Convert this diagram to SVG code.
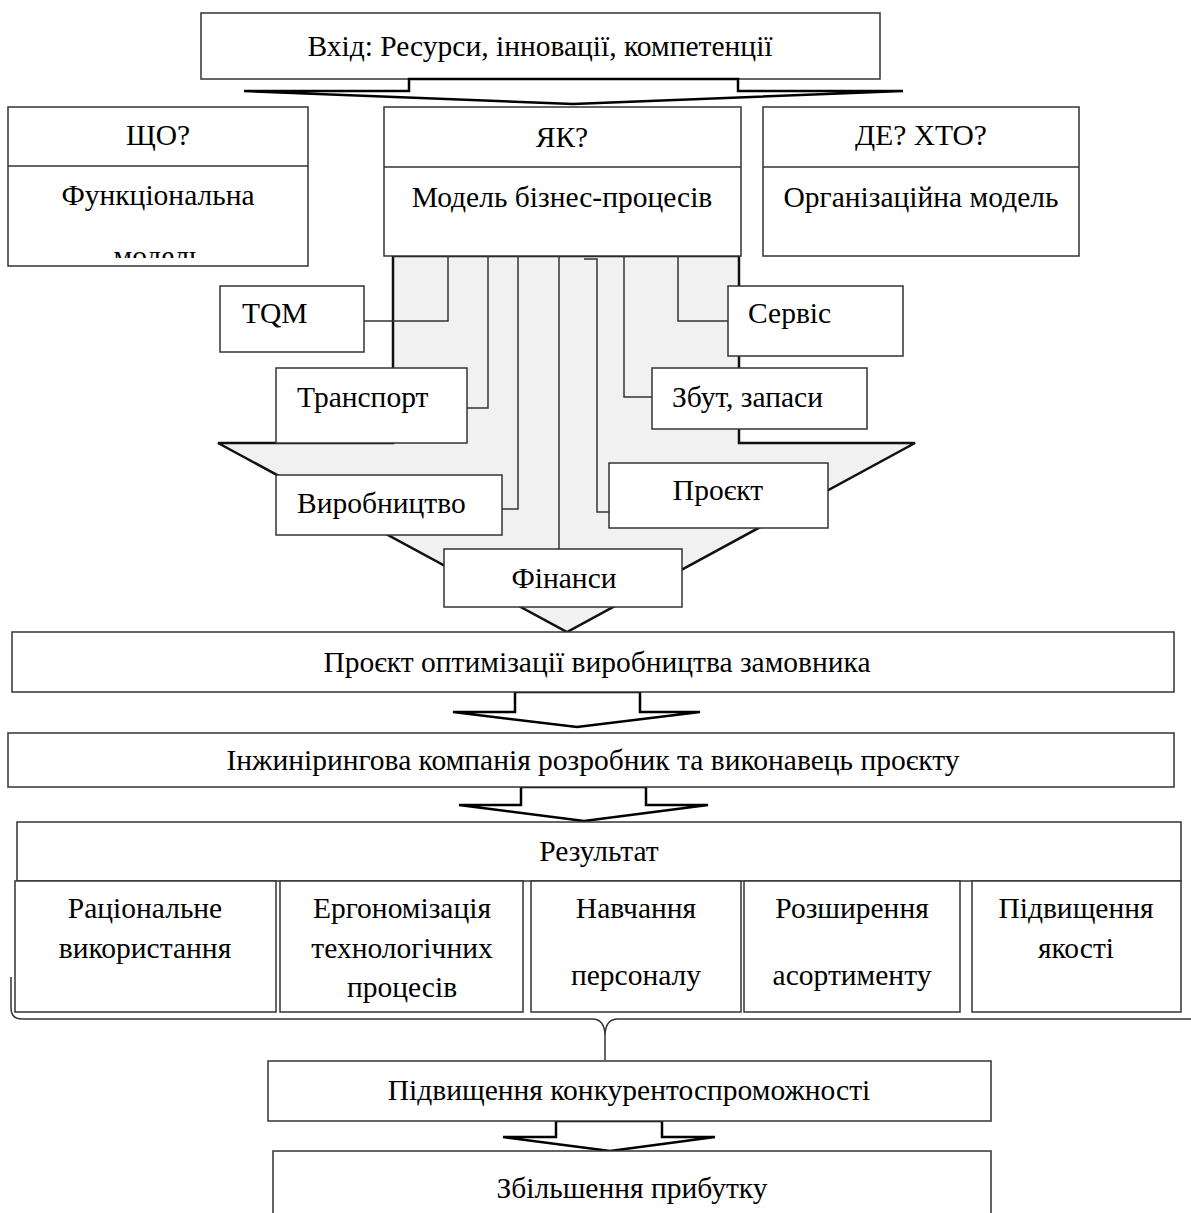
<svg xmlns="http://www.w3.org/2000/svg" width="1191" height="1213" viewBox="0 0 1191 1213">
<defs>
<style>
.box{fill:#fff;stroke:#333;stroke-width:1.5}
.t{font-family:"Liberation Serif","Times New Roman",serif;font-size:29.5px;fill:#000}
.c{text-anchor:middle}
.arr{fill:#fff;stroke:#000;stroke-width:2.5;stroke-linejoin:miter}
.big{fill:#f1f1f1;stroke:#111;stroke-width:2.5}
.con{fill:none;stroke:#333;stroke-width:1.5}
</style>
<clipPath id="clipFunc"><rect x="8" y="107" width="300" height="151"/></clipPath>
</defs>
<rect width="1191" height="1213" fill="#fff"/>

<g id="node-input">
<rect class="box" x="201" y="13" width="679" height="66"/>
<text class="t c" x="540" y="56">Вхід: Ресурси, інновації, компетенції</text>
</g>

<g id="arrow-top"><polygon class="arr" points="409,79 738,79 738,91 903,91 573,104 244,91 409,91"/></g>

<g id="node-what">
<rect class="box" x="8" y="107" width="300" height="159"/>
<line class="box" x1="8" y1="166" x2="308" y2="166"/>
<text class="t c" x="158" y="145">ЩО?</text>
<text class="t c" x="158" y="205">Функціональна</text>
<text class="t c" x="158" y="266" clip-path="url(#clipFunc)">модель</text>
</g>

<g id="node-where">
<rect class="box" x="763" y="107" width="316" height="149"/>
<line class="box" x1="763" y1="167" x2="1079" y2="167"/>
<text class="t c" x="921" y="145">ДЕ? ХТО?</text>
<text class="t c" x="921" y="207">Організаційна модель</text>
</g>

<g id="big-arrow"><polygon class="big" points="393,256 739,256 739,443 915,443 567,632 218,443 393,443"/></g>

<g id="node-how">
<rect class="box" x="384" y="107" width="357" height="149"/>
<line class="box" x1="384" y1="167" x2="741" y2="167"/>
<text class="t c" x="562" y="147">ЯК?</text>
<text class="t c" x="562" y="207">Модель бізнес-процесів</text>
</g>

<g id="connectors">
<path class="con" d="M448,256 V321 H364"/>
<path class="con" d="M488,256 V408 H467"/>
<path class="con" d="M518,256 V509 H502"/>
<path class="con" d="M559,256 V549"/>
<path class="con" d="M584,259 H597 V512 H609"/>
<path class="con" d="M624,256 V397 H652"/>
<path class="con" d="M678,256 V321 H728"/>
<polygon class="arr" points="515,692 640,692 640,712 700,712 577,727 453,712 515,712"/>
<polygon class="arr" points="521,787 646,787 646,805 708,805 584,821 459,805 521,805"/>
<polygon class="arr" points="556,1121 662,1121 662,1137 715,1137 610,1151 503,1137 556,1137"/>
<path class="con" d="M11,977 V1008 Q11,1019 22,1019 H592 Q605,1019 605,1036 V1060 M605,1036 Q605,1019 618,1019 H1191" stroke-width="1.3"/>
</g>

<g id="node-tqm"><rect class="box" x="220" y="286" width="144" height="66"/><text class="t" x="242" y="323">TQM</text></g>
<g id="node-transport"><rect class="box" x="276" y="368" width="191" height="75"/><text class="t" x="297" y="407">Транспорт</text></g>
<g id="node-production"><rect class="box" x="276" y="475" width="226" height="60"/><text class="t" x="297" y="513">Виробництво</text></g>
<g id="node-finance"><rect class="box" x="444" y="549" width="238" height="58"/><text class="t c" x="564" y="588">Фінанси</text></g>
<g id="node-project"><rect class="box" x="609" y="463" width="219" height="65"/><text class="t c" x="718" y="500">Проєкт</text></g>
<g id="node-sales"><rect class="box" x="652" y="368" width="215" height="61"/><text class="t" x="672" y="407">Збут, запаси</text></g>
<g id="node-service"><rect class="box" x="728" y="286" width="175" height="70"/><text class="t" x="748" y="323">Сервіс</text></g>

<g id="node-opt"><rect class="box" x="12" y="632" width="1162" height="60"/><text class="t c" x="597" y="672">Проєкт оптимізації виробництва замовника</text></g>
<g id="node-eng"><rect class="box" x="8" y="733" width="1166" height="54"/><text class="t c" x="593" y="770">Інжинірингова компанія розробник та виконавець проєкту</text></g>

<g id="node-result"><rect class="box" x="17" y="822" width="1164" height="59"/><text class="t c" x="599" y="861">Результат</text></g>
<g id="node-r1"><rect class="box" x="15" y="881" width="261" height="131"/><text class="t c" x="145" y="918">Раціональне</text><text class="t c" x="145" y="958">використання</text></g>
<g id="node-r2"><rect class="box" x="280" y="881" width="243" height="131"/><text class="t c" x="402" y="918">Ергономізація</text><text class="t c" x="402" y="958">технологічних</text><text class="t c" x="402" y="997">процесів</text></g>
<g id="node-r3"><rect class="box" x="531" y="881" width="210" height="131"/><text class="t c" x="636" y="918">Навчання</text><text class="t c" x="636" y="985">персоналу</text></g>
<g id="node-r4"><rect class="box" x="744" y="881" width="216" height="131"/><text class="t c" x="852" y="918">Розширення</text><text class="t c" x="852" y="985">асортименту</text></g>
<g id="node-r5"><rect class="box" x="972" y="881" width="209" height="131"/><text class="t c" x="1076" y="918">Підвищення</text><text class="t c" x="1076" y="958">якості</text></g>

<g id="node-comp"><rect class="box" x="268" y="1061" width="723" height="60"/><text class="t c" x="629" y="1100">Підвищення конкурентоспроможності</text></g>
<g id="node-profit"><rect class="box" x="273" y="1151" width="718" height="70"/><text class="t c" x="632" y="1198">Збільшення прибутку</text></g>
</svg>
